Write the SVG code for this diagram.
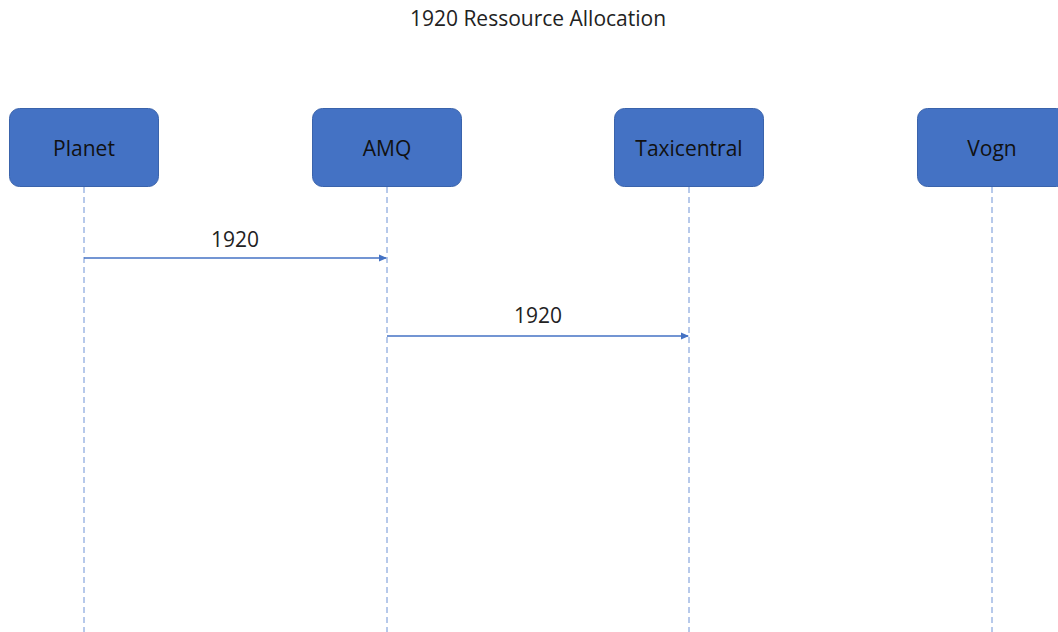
<svg xmlns="http://www.w3.org/2000/svg" width="1058" height="632" viewBox="0 0 1058 632">
<style>
.node rect{fill:#4472C4;stroke:#3A63AB;stroke-width:1}
.node text{font-family:"Open Sans","Noto Sans",sans-serif;font-size:21px;fill:#111;text-anchor:middle}
.life{stroke:#6E93D6;stroke-width:1;stroke-dasharray:6 4;fill:none}
.msg{stroke:#4472C4;stroke-width:1.5;fill:none;marker-end:url(#arr)}
.lbl{font-family:"Open Sans","Noto Sans",sans-serif;font-size:21px;fill:#222;text-anchor:middle}
.title{font-family:"Open Sans","Noto Sans",sans-serif;font-size:21px;fill:#222;text-anchor:middle}
</style>
<defs>
<marker id="arr" markerWidth="8" markerHeight="8" refX="7" refY="4" orient="auto" markerUnits="userSpaceOnUse">
<path d="M0,0.5 L8,4 L0,7.5 Z" fill="#4472C4"/>
</marker>
</defs>
<rect width="1058" height="632" fill="#fff"/>
<text class="title" x="538" y="26">1920 Ressource Allocation</text>
<g id="lifelines">
<line class="life" x1="84" y1="187" x2="84" y2="632"/>
<line class="life" x1="387" y1="187" x2="387" y2="632"/>
<line class="life" x1="689" y1="187" x2="689" y2="632"/>
<line class="life" x1="992" y1="187" x2="992" y2="632"/>
</g>
<g id="node-planet" class="node"><rect x="9.5" y="108.5" width="149" height="78" rx="10"/><text x="84" y="156">Planet</text></g>
<g id="node-amq" class="node"><rect x="312.5" y="108.5" width="149" height="78" rx="10"/><text x="387" y="156">AMQ</text></g>
<g id="node-taxicentral" class="node"><rect x="614.5" y="108.5" width="149" height="78" rx="10"/><text x="689" y="156">Taxicentral</text></g>
<g id="node-vogn" class="node"><rect x="917.5" y="108.5" width="149" height="78" rx="10"/><text x="992" y="156">Vogn</text></g>
<g id="connectors">
<line class="msg" x1="84" y1="258" x2="386" y2="258"/>
<text class="lbl" x="235" y="247">1920</text>
<line class="msg" x1="387" y1="336" x2="688" y2="336"/>
<text class="lbl" x="538" y="323">1920</text>
</g>
</svg>
